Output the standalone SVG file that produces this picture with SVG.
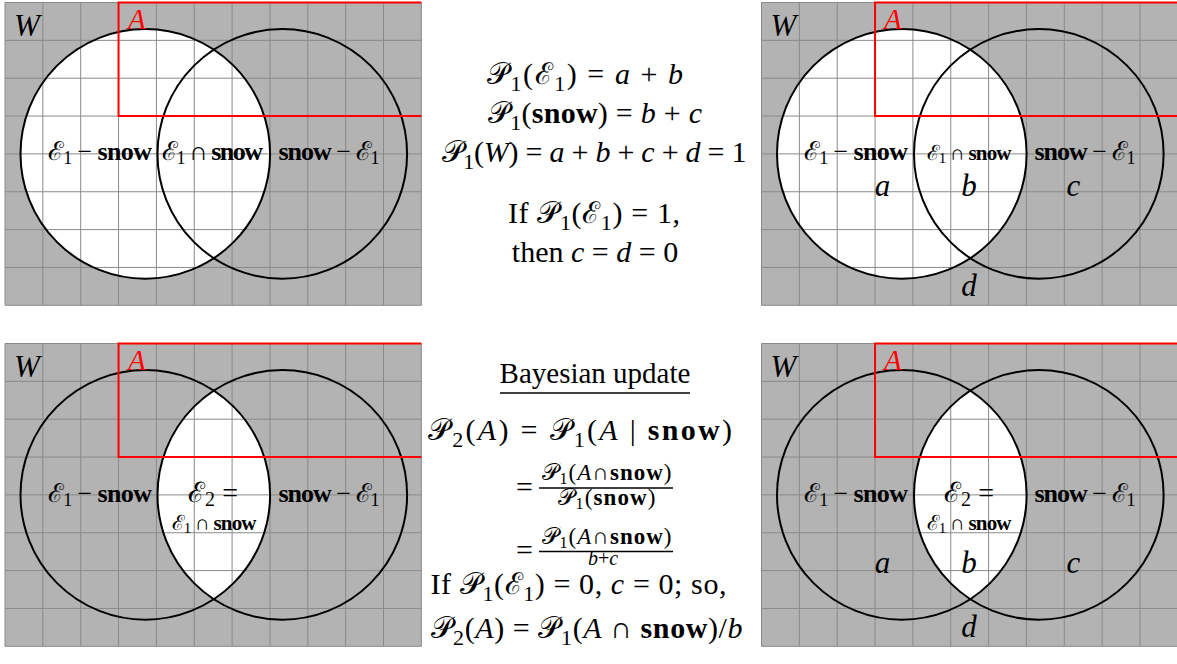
<svg xmlns="http://www.w3.org/2000/svg" width="1177" height="664" viewBox="0 0 1177 664">
<style>
.bg{fill:#b3b3b3}
.grid{fill:none;stroke:#8a8a8a;stroke-width:1}
.circ{fill:none;stroke:#000;stroke-width:2}
.hole{fill:#fff}
.red{fill:none;stroke:#f00;stroke-width:2}
.bar{stroke:#000;stroke-width:1.3}
</style>
<defs>
<rect id="bgr" class="bg" x="0" y="0" width="416.35" height="302.8"/>
<path id="gridp" class="grid" d="M0 0V302.8M37.85 0V302.8M75.7 0V302.8M113.55 0V302.8M151.4 0V302.8M189.25 0V302.8M227.1 0V302.8M264.95 0V302.8M302.8 0V302.8M340.65 0V302.8M378.5 0V302.8M416.35 0V302.8M0 0H416.35M0 37.85H416.35M0 75.7H416.35M0 113.55H416.35M0 151.4H416.35M0 189.25H416.35M0 227.1H416.35M0 264.95H416.35M0 302.8H416.35"/>
<circle id="c1" cx="140.3" cy="151.4" r="124.8"/>
<circle id="c2" cx="277.3" cy="151.4" r="124.8"/>
<path id="lens" d="M208.8 47.1A124.8 124.8 0 0 1 208.8 255.7A124.8 124.8 0 0 1 208.8 47.1Z"/>
<path id="redA" class="red" d="M416.35 113.55H113.55V0H416.35"/>
<g id="circs" class="circ"><use href="#c1"/><use href="#c2"/></g>
</defs>

<g id="panel-top-left" transform="translate(5,2.5)">
<use href="#bgr"/>
<use href="#c1" class="hole"/>
<use href="#gridp"/>
<use href="#circs"/>
<use href="#redA"/>
<text font-family="Liberation Serif" font-size="31" font-style="italic" x="9" y="33.5">W</text>
<text font-family="Liberation Serif" font-size="29" font-style="italic" fill="#f00" x="123" y="26.5">A</text>
<text font-family="Liberation Serif" font-size="26" x="95" y="157.5" text-anchor="middle" textLength="104" lengthAdjust="spacing"><tspan font-family="DejaVu Serif">ℰ</tspan><tspan font-size="18" baseline-shift="-4">1</tspan> − <tspan font-weight="bold">snow</tspan></text>
<text font-family="Liberation Serif" font-size="26" x="207.5" y="157.5" text-anchor="middle" textLength="101" lengthAdjust="spacing"><tspan font-family="DejaVu Serif">ℰ</tspan><tspan font-size="18" baseline-shift="-4">1</tspan> ∩ <tspan font-weight="bold">snow</tspan></text>
<text font-family="Liberation Serif" font-size="26" x="324" y="157.5" text-anchor="middle" textLength="101" lengthAdjust="spacing"><tspan font-weight="bold">snow</tspan> − <tspan font-family="DejaVu Serif">ℰ</tspan><tspan font-size="18" baseline-shift="-4">1</tspan></text>
</g>

<g id="panel-top-right" transform="translate(761.5,2.5)">
<use href="#bgr"/>
<use href="#c1" class="hole"/>
<use href="#gridp"/>
<use href="#circs"/>
<use href="#redA"/>
<text font-family="Liberation Serif" font-size="31" font-style="italic" x="9" y="33.5">W</text>
<text font-family="Liberation Serif" font-size="29" font-style="italic" fill="#f00" x="122.5" y="26.5">A</text>
<text font-family="Liberation Serif" font-size="26" x="94.5" y="157.5" text-anchor="middle" textLength="104" lengthAdjust="spacing"><tspan font-family="DejaVu Serif">ℰ</tspan><tspan font-size="18" baseline-shift="-4">1</tspan> − <tspan font-weight="bold">snow</tspan></text>
<text font-family="Liberation Serif" font-size="21" x="207.5" y="157.5" text-anchor="middle" textLength="85" lengthAdjust="spacing"><tspan font-family="DejaVu Serif">ℰ</tspan><tspan font-size="15" baseline-shift="-3">1</tspan> ∩ <tspan font-weight="bold">snow</tspan></text>
<text font-family="Liberation Serif" font-size="26" x="323.5" y="157.5" text-anchor="middle" textLength="101" lengthAdjust="spacing"><tspan font-weight="bold">snow</tspan> − <tspan font-family="DejaVu Serif">ℰ</tspan><tspan font-size="18" baseline-shift="-4">1</tspan></text>
<text font-family="Liberation Serif" font-size="31" font-style="italic" x="121" y="193.5" text-anchor="middle">a</text>
<text font-family="Liberation Serif" font-size="31" font-style="italic" x="207.5" y="193.5" text-anchor="middle">b</text>
<text font-family="Liberation Serif" font-size="31" font-style="italic" x="312" y="193.5" text-anchor="middle">c</text>
<text font-family="Liberation Serif" font-size="31" font-style="italic" x="207.5" y="293.5" text-anchor="middle">d</text>
</g>

<g id="panel-bottom-left" transform="translate(5,343.5)">
<use href="#bgr"/>
<use href="#lens" class="hole"/>
<use href="#gridp"/>
<use href="#circs"/>
<use href="#redA"/>
<text font-family="Liberation Serif" font-size="31" font-style="italic" x="9" y="33.5">W</text>
<text font-family="Liberation Serif" font-size="29" font-style="italic" fill="#f00" x="123" y="26.5">A</text>
<text font-family="Liberation Serif" font-size="26" x="95" y="158" text-anchor="middle" textLength="104" lengthAdjust="spacing"><tspan font-family="DejaVu Serif">ℰ</tspan><tspan font-size="18" baseline-shift="-4">1</tspan> − <tspan font-weight="bold">snow</tspan></text>
<text font-family="Liberation Serif" font-size="28" x="208" y="158" text-anchor="middle" textLength="50" lengthAdjust="spacing"><tspan font-family="DejaVu Serif">ℰ</tspan><tspan font-size="20" baseline-shift="-4">2</tspan> =</text>
<text font-family="Liberation Serif" font-size="21" x="209" y="186.5" text-anchor="middle" textLength="85" lengthAdjust="spacing"><tspan font-family="DejaVu Serif">ℰ</tspan><tspan font-size="15" baseline-shift="-3">1</tspan> ∩ <tspan font-weight="bold">snow</tspan></text>
<text font-family="Liberation Serif" font-size="26" x="324" y="158" text-anchor="middle" textLength="101" lengthAdjust="spacing"><tspan font-weight="bold">snow</tspan> − <tspan font-family="DejaVu Serif">ℰ</tspan><tspan font-size="18" baseline-shift="-4">1</tspan></text>
</g>

<g id="panel-bottom-right" transform="translate(761.5,343.5)">
<use href="#bgr"/>
<use href="#lens" class="hole"/>
<use href="#gridp"/>
<use href="#circs"/>
<use href="#redA"/>
<text font-family="Liberation Serif" font-size="31" font-style="italic" x="9" y="33.5">W</text>
<text font-family="Liberation Serif" font-size="29" font-style="italic" fill="#f00" x="122.5" y="26.5">A</text>
<text font-family="Liberation Serif" font-size="26" x="94.5" y="158" text-anchor="middle" textLength="104" lengthAdjust="spacing"><tspan font-family="DejaVu Serif">ℰ</tspan><tspan font-size="18" baseline-shift="-4">1</tspan> − <tspan font-weight="bold">snow</tspan></text>
<text font-family="Liberation Serif" font-size="28" x="207.5" y="158" text-anchor="middle" textLength="50" lengthAdjust="spacing"><tspan font-family="DejaVu Serif">ℰ</tspan><tspan font-size="20" baseline-shift="-4">2</tspan> =</text>
<text font-family="Liberation Serif" font-size="21" x="207.5" y="186.5" text-anchor="middle" textLength="85" lengthAdjust="spacing"><tspan font-family="DejaVu Serif">ℰ</tspan><tspan font-size="15" baseline-shift="-3">1</tspan> ∩ <tspan font-weight="bold">snow</tspan></text>
<text font-family="Liberation Serif" font-size="26" x="323.5" y="158" text-anchor="middle" textLength="101" lengthAdjust="spacing"><tspan font-weight="bold">snow</tspan> − <tspan font-family="DejaVu Serif">ℰ</tspan><tspan font-size="18" baseline-shift="-4">1</tspan></text>
<text font-family="Liberation Serif" font-size="31" font-style="italic" x="121" y="229.5" text-anchor="middle">a</text>
<text font-family="Liberation Serif" font-size="31" font-style="italic" x="207.5" y="229.5" text-anchor="middle">b</text>
<text font-family="Liberation Serif" font-size="31" font-style="italic" x="312" y="229.5" text-anchor="middle">c</text>
<text font-family="Liberation Serif" font-size="31" font-style="italic" x="207.5" y="293" text-anchor="middle">d</text>
</g>

<g id="text-top">
<text font-family="Liberation Serif" font-size="30" x="585" y="84" text-anchor="middle" textLength="196" lengthAdjust="spacing">𝒫<tspan font-size="22" baseline-shift="-7">1</tspan>(<tspan font-family="DejaVu Serif">ℰ</tspan><tspan font-size="22" baseline-shift="-7">1</tspan>) = <tspan font-style="italic">a</tspan> + <tspan font-style="italic">b</tspan></text>
<text font-family="Liberation Serif" font-size="30" x="595" y="123" text-anchor="middle" textLength="214" lengthAdjust="spacing">𝒫<tspan font-size="22" baseline-shift="-7">1</tspan>(<tspan font-weight="bold">snow</tspan>) = <tspan font-style="italic">b</tspan> + <tspan font-style="italic">c</tspan></text>
<text font-family="Liberation Serif" font-size="30" x="594" y="161.5" text-anchor="middle" textLength="305" lengthAdjust="spacing">𝒫<tspan font-size="22" baseline-shift="-7">1</tspan>(<tspan font-style="italic">W</tspan>) = <tspan font-style="italic">a</tspan> + <tspan font-style="italic">b</tspan> + <tspan font-style="italic">c</tspan> + <tspan font-style="italic">d</tspan> = 1</text>
<text font-family="Liberation Serif" font-size="30" x="594" y="223" text-anchor="middle" textLength="172" lengthAdjust="spacing">If 𝒫<tspan font-size="22" baseline-shift="-7">1</tspan>(<tspan font-family="DejaVu Serif">ℰ</tspan><tspan font-size="22" baseline-shift="-7">1</tspan>) = 1,</text>
<text font-family="Liberation Serif" font-size="30" x="595" y="261.5" text-anchor="middle">then <tspan font-style="italic">c</tspan> = <tspan font-style="italic">d</tspan> = 0</text>
</g>

<g id="text-bottom">
<text font-family="Liberation Serif" font-size="29" x="595" y="383" text-anchor="middle">Bayesian update</text>
<line class="bar" x1="500" y1="393" x2="690" y2="393"/>
<text font-family="Liberation Serif" font-size="30" x="580" y="440" text-anchor="middle" textLength="304" lengthAdjust="spacing">𝒫<tspan font-size="22" baseline-shift="-7">2</tspan>(<tspan font-style="italic">A</tspan>) = 𝒫<tspan font-size="22" baseline-shift="-7">1</tspan>(<tspan font-style="italic">A</tspan> | <tspan font-weight="bold">snow</tspan>)</text>
<text font-family="Liberation Serif" font-size="30" x="516" y="497">=</text>
<text font-family="Liberation Serif" font-size="23" x="606.5" y="480" text-anchor="middle" textLength="130" lengthAdjust="spacing">𝒫<tspan font-size="16" baseline-shift="-4">1</tspan>(<tspan font-style="italic">A</tspan>∩<tspan font-weight="bold">snow</tspan>)</text>
<line class="bar" x1="539" y1="488" x2="673" y2="488"/>
<text font-family="Liberation Serif" font-size="23" x="606.5" y="505" text-anchor="middle" textLength="98" lengthAdjust="spacing">𝒫<tspan font-size="16" baseline-shift="-4">1</tspan>(<tspan font-weight="bold">snow</tspan>)</text>
<text font-family="Liberation Serif" font-size="30" x="516" y="560">=</text>
<text font-family="Liberation Serif" font-size="23" x="606.5" y="544" text-anchor="middle" textLength="130" lengthAdjust="spacing">𝒫<tspan font-size="16" baseline-shift="-4">1</tspan>(<tspan font-style="italic">A</tspan>∩<tspan font-weight="bold">snow</tspan>)</text>
<line class="bar" x1="539" y1="551.5" x2="673" y2="551.5"/>
<text font-family="Liberation Serif" font-size="20" x="603" y="565" text-anchor="middle"><tspan font-style="italic">b</tspan>+<tspan font-style="italic">c</tspan></text>
<text font-family="Liberation Serif" font-size="30" x="578.5" y="594" text-anchor="middle" textLength="296" lengthAdjust="spacing">If 𝒫<tspan font-size="22" baseline-shift="-7">1</tspan>(<tspan font-family="DejaVu Serif">ℰ</tspan><tspan font-size="22" baseline-shift="-7">1</tspan>) = 0, <tspan font-style="italic">c</tspan> = 0; so,</text>
<text font-family="Liberation Serif" font-size="30" x="586.5" y="638" text-anchor="middle" textLength="312" lengthAdjust="spacing">𝒫<tspan font-size="22" baseline-shift="-7">2</tspan>(<tspan font-style="italic">A</tspan>) = 𝒫<tspan font-size="22" baseline-shift="-7">1</tspan>(<tspan font-style="italic">A</tspan> ∩ <tspan font-weight="bold">snow</tspan>)/<tspan font-style="italic">b</tspan></text>
</g>
</svg>
